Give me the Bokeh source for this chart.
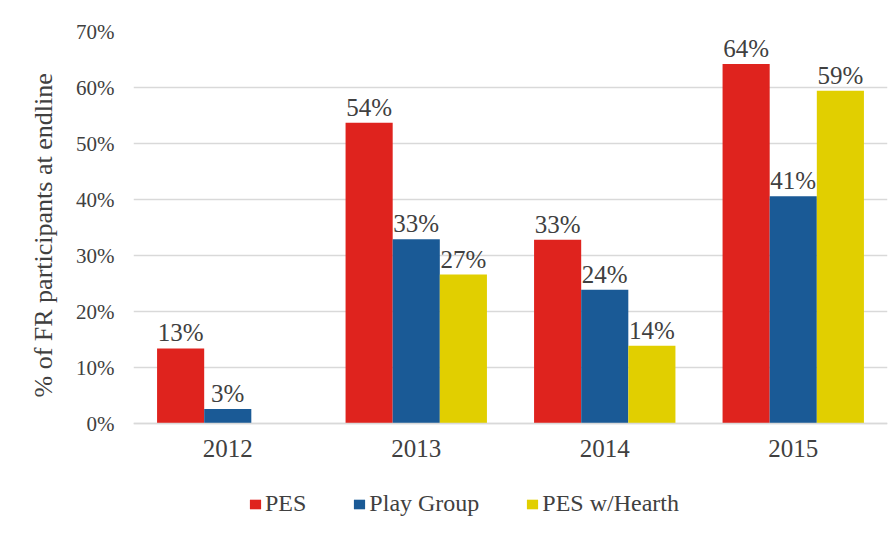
from bokeh.plotting import figure
from bokeh.models import ColumnDataSource, FixedTicker, PrintfTickFormatter, Legend, LegendItem, Title
from bokeh.transform import dodge
from bokeh.core.properties import value
from bokeh.embed import file_html
from bokeh.resources import INLINE

years = ["2012", "2013", "2014", "2015"]
pes = [13.4, 53.7, 32.8, 64.2]
play_group = [2.6, 32.9, 23.9, 40.6]
pes_hearth = [float("nan"), 26.6, 13.9, 59.4]
series_names = ["PES", "Play Group", "PES w/Hearth"]
y_ticks = [0, 10, 20, 30, 40, 50, 60, 70]
y_title = "% of FR participants at endline"

colors = ["#DF231E", "#1A5A96", "#E1CF00"]
FONT = "Liberation Serif"
TXT = "#404040"

# layout: plot area 0..70 spans 392 px; the frame extends further down
# (to hold category labels and legend) so the range starts below zero.
W, H = 890, 535
TOP, LEFT, RIGHT, BOTTOM = 31, 133, 3, 1
PLOT_PX = 392
frame_h = H - TOP - BOTTOM
y_max = y_ticks[-1]
y_min = -(frame_h - PLOT_PX) * y_max / PLOT_PX

def lab(vals):
    return ["" if v != v else "%d%%" % int(round(v)) for v in vals]

src = ColumnDataSource(dict(
    year=years, pes=pes, pg=play_group, ph=pes_hearth,
    pes_l=lab(pes), pg_l=lab(play_group), ph_l=lab(pes_hearth),
))

p = figure(x_range=years, y_range=(y_min, y_max), width=W, height=H,
           output_backend="svg", toolbar_location=None,
           min_border_left=LEFT, min_border_right=RIGHT, min_border_top=TOP,
           min_border_bottom=BOTTOM)
p.outline_line_color = None
p.background_fill_color = "white"
p.border_fill_color = "white"

renderers = []
for col, off, c in [("pes", -0.25, colors[0]), ("pg", 0.0, colors[1]), ("ph", 0.25, colors[2])]:
    r = p.vbar(x=dodge("year", off, range=p.x_range), top=col, width=0.25,
               source=src, fill_color=c, line_color=None)
    renderers.append(r)
    p.text(x=dodge("year", off, range=p.x_range), y=col, text=col + "_l", source=src,
           text_align="center", text_baseline="bottom", y_offset=-2,
           text_font=value(FONT), text_font_size="25px", text_color=TXT)

# y axis
p.yaxis.ticker = FixedTicker(ticks=y_ticks)
p.yaxis.formatter = PrintfTickFormatter(format="%d%%")
p.yaxis.axis_line_color = None
p.yaxis.major_tick_line_color = None
p.yaxis.minor_tick_line_color = None
p.yaxis.major_label_text_font = FONT
p.yaxis.major_label_text_font_size = "21px"
p.yaxis.major_label_text_color = TXT
p.yaxis.major_label_standoff = 13

ytitle = Title(text=y_title, align="left", offset=(H - BOTTOM) - 397,
               vertical_align="middle", standoff=30,
               text_font=FONT, text_font_size="26px", text_font_style="normal",
               text_color=TXT)
p.add_layout(ytitle, "left")

# x axis drawn at y = 0
p.xaxis.fixed_location = 0
p.xaxis.axis_line_color = "#d9d9d9"
p.xaxis.axis_line_width = 1.5
p.xaxis.major_tick_line_color = None
p.xaxis.minor_tick_line_color = None
p.xaxis.major_label_text_font = FONT
p.xaxis.major_label_text_font_size = "25px"
p.xaxis.major_label_text_color = TXT
p.xaxis.major_label_standoff = 10

p.xgrid.grid_line_color = None
p.ygrid.grid_line_color = "#d9d9d9"
p.ygrid.grid_line_width = 1.5

legend = Legend(items=[LegendItem(label=n, renderers=[r]) for n, r in zip(series_names, renderers)],
                orientation="horizontal", location=(115, 17),
                glyph_width=14, glyph_height=12, label_standoff=3, spacing=46,
                padding=0, margin=0, border_line_color=None, background_fill_alpha=0,
                label_text_font=FONT, label_text_font_size="24px", label_text_color=TXT)
p.add_layout(legend, "center")

open("out.html", "w").write(file_html(p, INLINE))
